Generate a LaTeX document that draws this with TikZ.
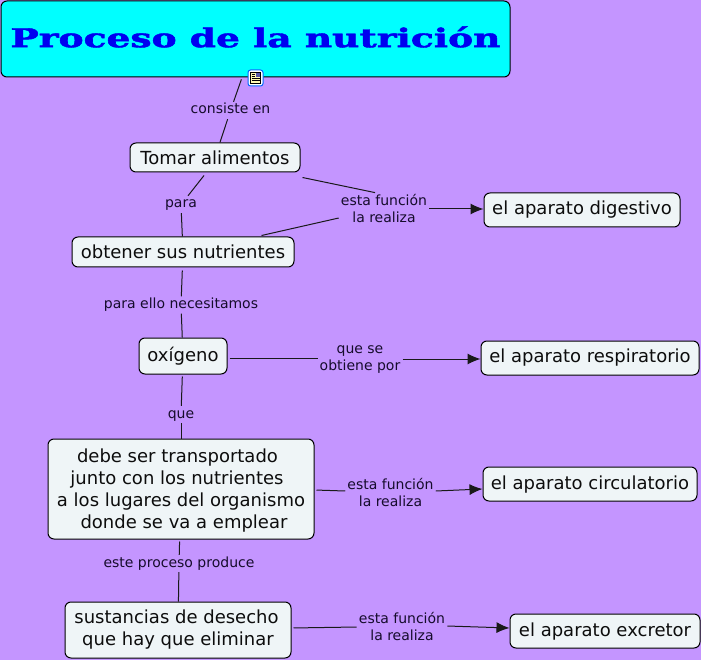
\documentclass[tikz,border=0pt]{standalone}
\usepackage{fontspec}
\setmainfont{DejaVu Sans}
\newfontfamily\titlefont{DejaVu Serif Bold}[FakeBold=1.6]
\usetikzlibrary{arrows.meta}
\definecolor{bgp}{HTML}{C495FF}
\definecolor{boxf}{HTML}{EFF5F7}
\definecolor{titleb}{HTML}{0000F0}
\definecolor{titlef}{HTML}{00FFFF}
\definecolor{lblc}{HTML}{160C2C}
\tikzset{
  concept/.style={draw=black,line width=1pt,fill=boxf,rounded corners=6pt,inner sep=0pt,font=\fontsize{18}{22}\selectfont,align=center,text=black!95},
  single/.style={concept,text height=#1,text depth=1pt},
  lbl/.style={inner xsep=2pt,inner ysep=2pt,font=\fontsize{14}{17}\selectfont,align=center,text=lblc},
  lblone/.style={lbl,text height=10pt,text depth=3pt},
  conn/.style={draw=black!90,line width=1pt},
  arr/.style={conn,-{Latex[length=13pt,width=11pt]}},
}
\newcommand{\tail}[1]{\hspace*{#1}\mbox{}}
\begin{document}
\begin{tikzpicture}[x=1pt,y=-1pt]
\useasboundingbox (0,0) rectangle (701,660);
\fill[bgp] (0,0) rectangle (701,660);
\node[concept,fill=titlef,minimum width=509pt,minimum height=76pt] (title) at (255.5,39) {};
\node[text=titleb,inner sep=0pt] (titletext) at (255.5,37) {\titlefont\scalebox{1.446}[1]{\fontsize{26}{30}\selectfont Proceso de la nutrición}};
\node[single=15pt,minimum width=170pt,minimum height=29pt] (tomar) at (215,157.5) {Tomar alimentos};
\node[single=13.6pt,minimum width=222pt,minimum height=30pt] (obtener) at (183,252) {obtener sus nutrientes};
\node[single=12.4pt,minimum width=88pt,minimum height=36pt] (oxigeno) at (183,356) {oxígeno};
\node[concept,minimum width=266pt,minimum height=100pt] (debe) at (181,489) {\rule{0pt}{16pt}debe ser transportado\tail{7pt}\\junto con los nutrientes\tail{8pt}\\a los lugares del organismo\\\hspace*{6pt}donde se va a emplear};
\node[concept,minimum width=226pt,minimum height=56pt] (sust) at (178,630) {sustancias de desecho\tail{3pt}\\que hay que eliminar};
\node[single=11pt,minimum width=196pt,minimum height=34pt] (dig) at (582,210) {el aparato digestivo};
\node[single=10.4pt,minimum width=218pt,minimum height=34pt] (resp) at (590,358) {el aparato respiratorio};
\node[single=11pt,minimum width=214pt,minimum height=34pt] (circ) at (590,484) {el aparato circulatorio};
\node[single=11pt,minimum width=190pt,minimum height=34pt] (exc) at (605,631) {el aparato excretor};
\node[lblone] (l1) at (230.5,110.5) {consiste en};
\node[lblone] (l2) at (181,204.5) {para};
\node[lbl] (l3) at (384,209) {esta función\\la realiza};
\node[lblone] (l4) at (181,305) {para ello necesitamos};
\node[lbl] (l5) at (360,359.5) {que se\\obtiene por};
\node[lblone] (l6) at (181,414.5) {que};
\node[lbl] (l7) at (390.5,492) {esta función\\la realiza};
\node[lblone] (l8) at (179,563.5) {este proceso produce};
\node[lbl] (l9) at (402,626) {esta función\\la realiza};
\draw[conn,shorten <=2pt] (title) -- (l1);
\draw[conn] (l1) -- (tomar);
\draw[conn] ([shift={(-11,3)}]tomar.south) -- ([shift={(7,0)}]l2.north);
\draw[conn] (l2) -- (obtener);
\draw[conn] ([shift={(2,5)}]tomar.south east) -- ([shift={(-9,0)}]l3.north);
\draw[conn] ([shift={(-33,-1)}]obtener.north east) -- ([shift={(0,9)}]l3.west);
\draw[arr] (l3.east) -- ([shift={(0,-1)}]dig.west);
\draw[conn,shorten <=3pt] (obtener) -- (l4);
\draw[conn] (l4) -- (oxigeno);
\draw[conn,shorten <=2pt] ([shift={(0,2)}]oxigeno.east) -- ([shift={(0,-1.5)}]l5.west);
\draw[arr] ([shift={(0,-0.5)}]l5.east) -- ([shift={(0,1)}]resp.west);
\draw[conn,shorten <=2pt] (oxigeno) -- (l6);
\draw[conn] (l6) -- (debe);
\draw[conn,shorten <=2pt] ([shift={(0,1)}]debe.east) -- ([shift={(0,-1)}]l7.west);
\draw[arr] ([shift={(0,-1)}]l7.east) -- ([shift={(0,5)}]circ.west);
\draw[conn,shorten <=2pt] (debe) -- (l8);
\draw[conn] (l8) -- (sust);
\draw[conn,shorten <=2pt] ([shift={(0,-2)}]sust.east) -- ([shift={(0,1)}]l9.west);
\draw[arr] (l9.east) -- ([shift={(0,-3)}]exc.west);
% note icon
\node[draw=blue!60!cyan,line width=1pt,fill=white,rounded corners=2.5pt,minimum width=15pt,minimum height=16pt,inner sep=0pt] (icon) at (255.5,78) {};
\fill[yellow!30] (250.5,72.5) rectangle (260.5,83.5);
\draw[black,line width=0.7pt] (250.5,72.5) rectangle (260.5,83.5);
\fill[gray!70!blue] (255.5,73) rectangle (260,77);
\draw[black,line width=0.6pt] (251.5,74.5) -- (254.5,74.5) (251.5,76.5) -- (254.5,76.5) (251.5,78.5) -- (259.5,78.5) (251.5,80.5) -- (259.5,80.5);
\end{tikzpicture}
\end{document}
